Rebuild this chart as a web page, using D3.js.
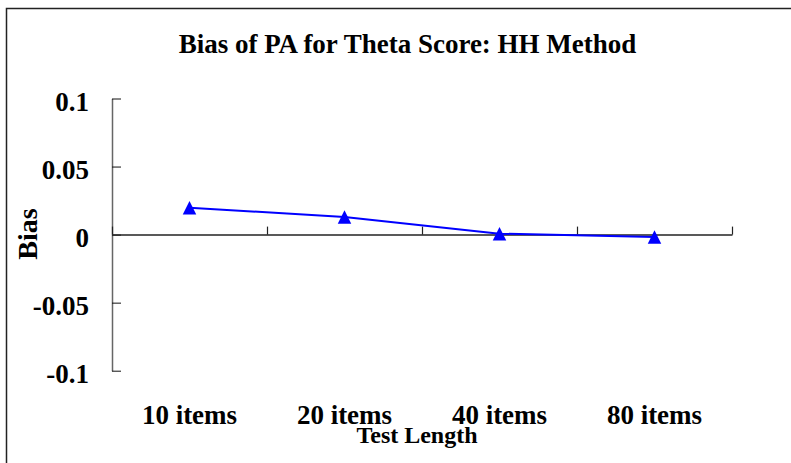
<!DOCTYPE html>
<html>
<head>
<meta charset="utf-8">
<script src="https://cdn.jsdelivr.net/npm/d3@7"></script>
<style>
  html, body { margin: 0; padding: 0; background: #fff; }
  svg { display: block; }
  text { font-family: "Liberation Serif", "Times New Roman", serif; font-weight: bold; fill: #000; }
</style>
</head>
<body>
<script>
// ---- data ----
const categories = ["10 items", "20 items", "40 items", "80 items"];
const biasValues = [0.0198, 0.0129, 0.0007, -0.0018];
const yTickValues = [-0.1, -0.05, 0, 0.05, 0.1];
const yTickLabels = ["-0.1", "-0.05", "0", "0.05", "0.1"];
const chartTitle = "Bias of PA for Theta Score: HH Method";
const xTitle = "Test Length";
const yTitle = "Bias";

const W = 791, H = 463;
const svg = d3.select("body").append("svg").attr("width", W).attr("height", H);

svg.append("rect").attr("x", 0).attr("y", 0).attr("width", W).attr("height", H).attr("fill", "#fff");
// outer chart border (extends past right/bottom edge)
svg.append("rect").attr("x", 6.5).attr("y", 8.5).attr("width", 900).attr("height", 600)
  .attr("fill", "none").attr("stroke", "#222").attr("stroke-width", 1.5);

const x0 = 112, x1 = 732;
const x = d3.scaleBand().domain(categories).range([x0, x1]).padding(0);
const y = d3.scaleLinear().domain([-0.1, 0.1]).range([370.7, 98.5]);

// title
svg.append("text").attr("x", 407.5).attr("y", 52.5).attr("text-anchor", "middle")
  .attr("font-size", 27).text(chartTitle);

// y axis
const yAxis = svg.append("g").attr("transform", `translate(${x0},0)`)
  .call(d3.axisRight(y).tickValues(yTickValues).tickSize(9).tickSizeOuter(0).tickFormat(""));
yAxis.select(".domain").attr("stroke", "#666").attr("stroke-width", 1.5);
yAxis.selectAll(".tick line").attr("stroke", "#111").attr("stroke-width", 1);

svg.append("g").selectAll("text").data(yTickValues).join("text")
  .attr("x", 89).attr("y", d => y(d) + 12).attr("text-anchor", "end")
  .attr("font-size", 27).text((d, i) => yTickLabels[i]);

// x axis at zero, ticks at category boundaries pointing up
const xb = d3.scaleLinear().domain([0, categories.length]).range([x0, x1]);
const xAxis = svg.append("g").attr("transform", `translate(0,${y(0)})`)
  .call(d3.axisTop(xb).tickValues(d3.range(0, categories.length + 1)).tickSize(8).tickSizeOuter(0).tickFormat(""));
xAxis.select(".domain").attr("stroke", "#222").attr("stroke-width", 1.5);
xAxis.selectAll(".tick line").attr("stroke", "#222").attr("stroke-width", 1.2);

// category labels
svg.append("g").selectAll("text").data(categories).join("text")
  .attr("x", d => x(d) + x.bandwidth() / 2).attr("y", 424).attr("text-anchor", "middle")
  .attr("font-size", 27).text(d => d);

// axis titles
svg.append("text").attr("x", 417).attr("y", 443).attr("text-anchor", "middle")
  .attr("font-size", 24).text(xTitle);
svg.append("text").attr("transform", `translate(37,234) rotate(-90)`).attr("text-anchor", "middle")
  .attr("font-size", 28).text(yTitle);

// series line
const pts = categories.map((c, i) => [x(c) + x.bandwidth() / 2, y(biasValues[i])]);
svg.append("path").attr("d", d3.line()(pts)).attr("fill", "none")
  .attr("stroke", "#0000FF").attr("stroke-width", 2);

// triangle markers (centered on bounding box)
const tri = { draw(ctx, size) { const h = Math.sqrt(size) / 2; ctx.moveTo(0, -h); ctx.lineTo(h, h); ctx.lineTo(-h, h); ctx.closePath(); } };
svg.append("g").selectAll("path").data(pts).join("path")
  .attr("transform", d => `translate(${d[0]},${d[1]})`)
  .attr("d", d3.symbol().type(tri).size(13.5 * 13.5))
  .attr("fill", "#0000FF");
</script>
</body>
</html>
